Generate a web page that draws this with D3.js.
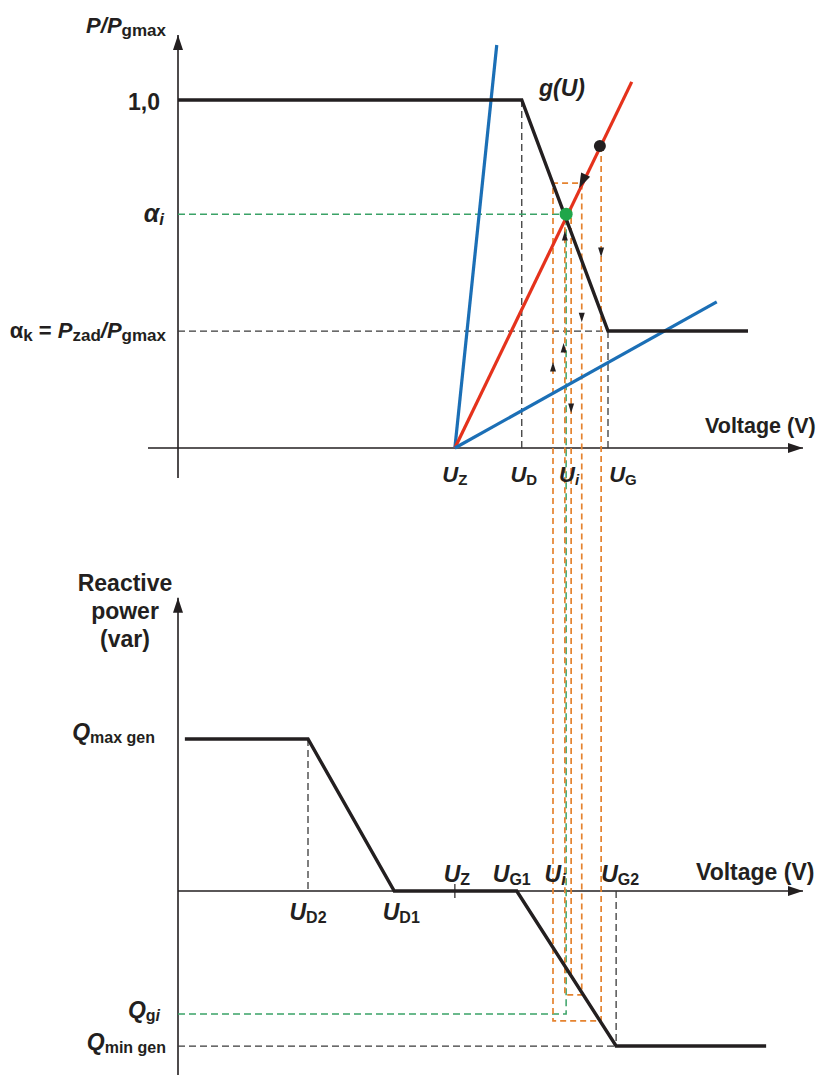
<!DOCTYPE html>
<html>
<head>
<meta charset="utf-8">
<script src="https://cdn.jsdelivr.net/npm/d3@7/dist/d3.min.js"></script>
<style>
  body { margin: 0; background: #fff; }
  svg { display: block; }
  text { font-family: "Liberation Sans", Arial, Helvetica, sans-serif; font-weight: bold; fill: #231f20; }
</style>
</head>
<body>
<svg width="832" height="1080"></svg>
<script>
// voltage in arbitrary units, top panel P/Pgmax, bottom panel Q (pu of Qmax gen)
const uZ = 44.3, uD = 55.0, uG = 68.8, uI = 62.1;
const uD2 = 20.8, uD1 = 34.6, uG1 = 54.2, uG2 = 70.1;
const alphaK = 0.336, alphaI = 0.672;
const qMax = 1, qMin = -1.02, qGi = -0.81;

// g(U) characteristic
const gCurveU = [0, uD, uG, 91.2];
const gCurveP = [1, 1, alphaK, alphaK];

// Q(U) characteristic
const qCurveU = [1.1, uD2, uD1, uG1, uG2, 94.1];
const qCurveQ = [qMax, qMax, 0, 0, qMin, qMin];

// straight lines starting at U_Z
const rayEndU = [51.0, 72.6, 86.2];
const rayEndP = [1.158, 1.052, 0.42];
const rayColor = ['#1b6fb6', '#e5321c', '#1b6fb6'];

// iteration path (orange dashed), panel p = top, q = bottom
const iterU = [67.7, 67.7, 60.0, 60.0, 64.6, 64.6, 61.9, 61.9];
const iterV = [0.868, -0.855, -0.855, 0.761, 0.761, -0.684, -0.684, 0.652];
const iterPanel = ['p', 'q', 'q', 'p', 'p', 'q', 'q', 'p'];
const iter2U = [62.9, 62.9];
const iter2V = [0.69, -0.553];
const iter2Panel = ['p', 'q'];

// small arrows on the iteration lines
const arrowU = [67.7, 61.9, 64.6, 61.7, 60.0, 62.9];
const arrowP = [0.563, 0.609, 0.376, 0.287, 0.233, 0.115];
const arrowDir = ['down', 'up', 'down', 'up', 'up', 'down'];

// operating points
const startPoint = [67.5, 0.868];
const eqPoint = [uI, alphaI];
const redArrowAt = [64.8, 0.770];

// axis extents
const topAxisU = [-4.8, 100], topAxisP = [-0.086, 1.187];
const botAxisU = [0, 100], botAxisQ = [-1.21, 1.93];

const svg = d3.select('svg');

const x = d3.scaleLinear().domain([0, 100]).range([178, 803]);
const yP = d3.scaleLinear().domain([0, 1]).range([448, 100]);
const yQ = d3.scaleLinear().domain([0, 1]).range([891, 739]);
const yOf = (panel, v) => panel === 'p' ? yP(v) : yQ(v);

svg.append('defs').append('marker')
  .attr('id', 'arr')
  .attr('markerUnits', 'userSpaceOnUse')
  .attr('markerWidth', 16).attr('markerHeight', 10)
  .attr('refX', 15).attr('refY', 5)
  .attr('orient', 'auto')
  .append('path').attr('d', 'M0,0L15,5L0,10Z').attr('fill', '#231f20');

const AX = '#231f20';
const axes = svg.append('g').attr('stroke', AX).attr('stroke-width', 1.6);
axes.append('line')
  .attr('x1', x(topAxisU[0])).attr('x2', x(topAxisU[1]))
  .attr('y1', yP(0)).attr('y2', yP(0)).attr('marker-end', 'url(#arr)');
axes.append('line')
  .attr('x1', x(0)).attr('x2', x(0))
  .attr('y1', yP(topAxisP[0])).attr('y2', yP(topAxisP[1])).attr('marker-end', 'url(#arr)');
axes.append('line')
  .attr('x1', x(botAxisU[0])).attr('x2', x(botAxisU[1]))
  .attr('y1', yQ(0)).attr('y2', yQ(0)).attr('marker-end', 'url(#arr)');
axes.append('line')
  .attr('x1', x(0)).attr('x2', x(0))
  .attr('y1', yQ(botAxisQ[0])).attr('y2', yQ(botAxisQ[1])).attr('marker-end', 'url(#arr)');
// U_Z tick on the lower axis
axes.append('line')
  .attr('x1', x(uZ)).attr('x2', x(uZ))
  .attr('y1', yQ(0) - 7).attr('y2', yQ(0) + 7).attr('stroke-width', 1.2);

// black dashed guides
const dashP = [[[uD, 1], [uD, 0]], [[uG, alphaK], [uG, 0]], [[0, alphaK], [uG, alphaK]]];
const dashQ = [[[uD2, qMax], [uD2, 0]], [[uG2, 0], [uG2, qMin]], [[0, qMin], [uG2, qMin]]];
const guides = svg.append('g').attr('stroke', '#3a3a3a').attr('stroke-width', 1.3)
  .attr('stroke-dasharray', '7,4').attr('fill', 'none');
dashP.forEach(s => guides.append('line')
  .attr('x1', x(s[0][0])).attr('y1', yP(s[0][1])).attr('x2', x(s[1][0])).attr('y2', yP(s[1][1])));
dashQ.forEach(s => guides.append('line')
  .attr('x1', x(s[0][0])).attr('y1', yQ(s[0][1])).attr('x2', x(s[1][0])).attr('y2', yQ(s[1][1])));

// green dashed guides
const green = svg.append('g').attr('stroke', '#3aa267').attr('stroke-width', 1.5)
  .attr('stroke-dasharray', '7,4').attr('fill', 'none');
green.append('line').attr('x1', x(0)).attr('x2', x(uI)).attr('y1', yP(alphaI)).attr('y2', yP(alphaI));
green.append('path').attr('d',
  `M${x(0)},${yQ(qGi)}H${x(uI)}V${yP(alphaI)}`);

// orange iteration
const orange = svg.append('g').attr('stroke', '#e5832f').attr('stroke-width', 1.7)
  .attr('stroke-dasharray', '6,4').attr('fill', 'none');
const iterLine = (us, vs, ps) => d3.line()(us.map((u, i) => [x(u), yOf(ps[i], vs[i])]));
orange.append('path').attr('d', iterLine(iterU, iterV, iterPanel));
orange.append('path').attr('d', iterLine(iter2U, iter2V, iter2Panel));

// characteristics
const lineP = d3.line().x(d => x(d[0])).y(d => yP(d[1]));
const lineQ = d3.line().x(d => x(d[0])).y(d => yQ(d[1]));

rayEndU.forEach((u, i) => {
  svg.append('path')
    .attr('d', lineP([[uZ, 0], [u, rayEndP[i]]]))
    .attr('stroke', rayColor[i]).attr('stroke-width', 3.2).attr('fill', 'none');
});

svg.append('path')
  .attr('d', lineP(gCurveU.map((u, i) => [u, gCurveP[i]])))
  .attr('stroke', '#231f20').attr('stroke-width', 3.4).attr('fill', 'none')
  .attr('stroke-linejoin', 'miter');
svg.append('path')
  .attr('d', lineQ(qCurveU.map((u, i) => [u, qCurveQ[i]])))
  .attr('stroke', '#231f20').attr('stroke-width', 3.4).attr('fill', 'none')
  .attr('stroke-linejoin', 'miter');

// small arrows
const smallTri = 'M0,-5L3,4.5L-3,4.5Z';
arrowU.forEach((u, i) => {
  svg.append('path').attr('d', smallTri).attr('fill', '#231f20')
    .attr('transform', `translate(${x(u)},${yP(arrowP[i])}) rotate(${arrowDir[i] === 'up' ? 0 : 180})`);
});

// arrow on the red line, pointing towards the equilibrium
const rdx = x(uZ) - x(rayEndU[1]), rdy = yP(0) - yP(rayEndP[1]);
const rAng = Math.atan2(rdx, -rdy) * 180 / Math.PI;
svg.append('path').attr('d', 'M0,-9L5,6L-5,6Z').attr('fill', '#231f20')
  .attr('transform', `translate(${x(redArrowAt[0])},${yP(redArrowAt[1])}) rotate(${rAng})`);

svg.append('circle').attr('cx', x(startPoint[0])).attr('cy', yP(startPoint[1])).attr('r', 6).attr('fill', '#231f20');
svg.append('circle').attr('cx', x(eqPoint[0])).attr('cy', yP(eqPoint[1])).attr('r', 6.5).attr('fill', '#1fa64a');

// labels
function label(px, py, parts, anchor, size, subSize) {
  const t = svg.append('text').attr('x', px).attr('y', py)
    .attr('text-anchor', anchor || 'start').attr('font-size', size);
  let shift = 0;
  parts.forEach(p => {
    const s = t.append('tspan').text(p.t)
      .attr('font-size', p.sub ? subSize : size)
      .attr('font-style', p.it ? 'italic' : 'normal');
    const want = p.sub ? 3 : 0;
    if (want !== shift) { s.attr('dy', want - shift); shift = want; }
  });
  return t;
}

label(166, 33, [{t: 'P/P', it: 1}, {t: 'gmax', sub: 1}], 'end', 22, 17);
label(160, 110, [{t: '1,0'}], 'end', 23, 15);
label(164, 222, [{t: 'α', it: 1}, {t: 'i', it: 1, sub: 1}], 'end', 25, 17);
label(166, 338, [{t: 'α'}, {t: 'k', sub: 1}, {t: ' = '}, {t: 'P', it: 1}, {t: 'zad', sub: 1},
  {t: '/P', it: 1}, {t: 'gmax', sub: 1}], 'end', 22, 17);
label(539, 96, [{t: 'g(U)', it: 1}], 'start', 23, 15);
label(705, 433, [{t: 'Voltage (V)'}], 'start', 21.5, 15);

label(x(uZ), 482, [{t: 'U', it: 1}, {t: 'Z', sub: 1}], 'middle', 22, 15);
label(x(uD) + 2, 482, [{t: 'U', it: 1}, {t: 'D', sub: 1}], 'middle', 22, 15);
label(x(uI) + 3, 482, [{t: 'U', it: 1}, {t: 'i', it: 1, sub: 1}], 'middle', 22, 15);
label(x(uG) + 15, 482, [{t: 'U', it: 1}, {t: 'G', sub: 1}], 'middle', 22, 15);

label(125, 591, [{t: 'Reactive'}], 'middle', 23, 15);
label(125, 619, [{t: 'power'}], 'middle', 23, 15);
label(125, 647, [{t: '(var)'}], 'middle', 23, 15);

label(155, 740, [{t: 'Q', it: 1}, {t: 'max gen', sub: 1}], 'end', 23, 16);
label(160, 1018, [{t: 'Q', it: 1}, {t: 'g', sub: 1}, {t: 'i', it: 1, sub: 1}], 'end', 23, 16);
label(166, 1050, [{t: 'Q', it: 1}, {t: 'min gen', sub: 1}], 'end', 23, 16);

label(x(uD2), 920, [{t: 'U', it: 1}, {t: 'D2', sub: 1}], 'middle', 23, 16);
label(x(uD1) + 7, 920, [{t: 'U', it: 1}, {t: 'D1', sub: 1}], 'middle', 23, 16);
label(x(uZ) + 2, 882, [{t: 'U', it: 1}, {t: 'Z', sub: 1}], 'middle', 23, 16);
label(x(uG1) - 5, 882, [{t: 'U', it: 1}, {t: 'G1', sub: 1}], 'middle', 23, 16);
label(x(uI) - 11, 882, [{t: 'U', it: 1}, {t: 'i', it: 1, sub: 1}], 'middle', 23, 16);
label(x(uG2) + 4, 882, [{t: 'U', it: 1}, {t: 'G2', sub: 1}], 'middle', 23, 16);
label(696, 880, [{t: 'Voltage (V)'}], 'start', 23, 15);
</script>
</body>
</html>
